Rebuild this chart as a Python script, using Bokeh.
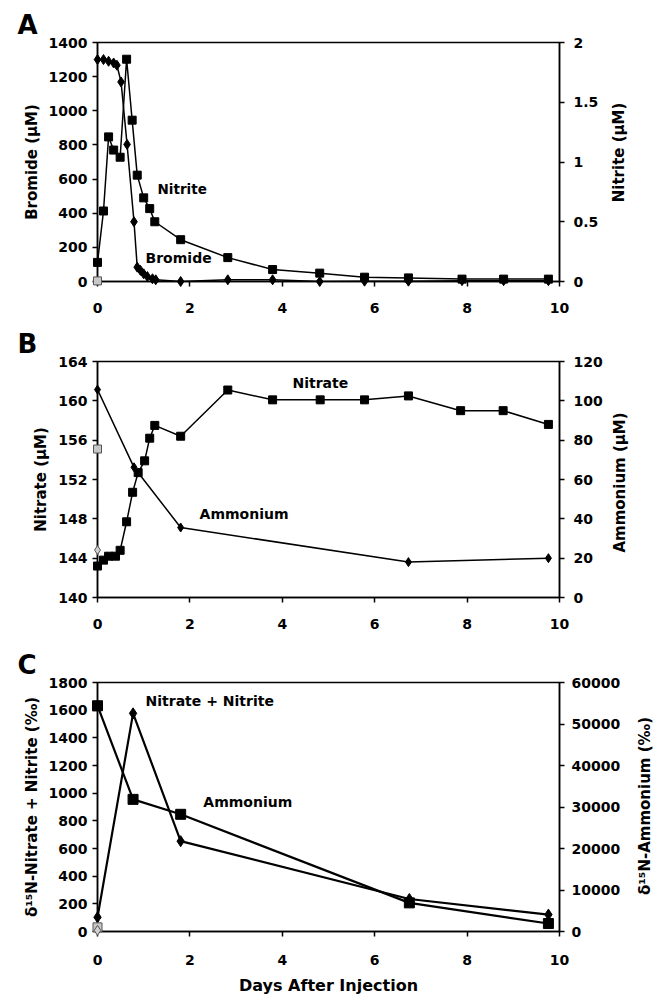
import math
from bokeh.plotting import figure
from bokeh.models import Range1d, LinearAxis, FixedTicker, BasicTickFormatter
from bokeh.layouts import column
from bokeh.embed import file_html
from bokeh.resources import INLINE
from bokeh.core.properties import value

FONT = "DejaVu Sans"

# ---------------- Panel A data ----------------
a_days_bromide = [0, 0.13, 0.24, 0.35, 0.42, 0.51, 0.64, 0.79, 0.86, 0.93, 1.0, 1.08, 1.19, 1.26,
                  1.80, 2.82, 3.79, 4.81, 5.78, 6.73, 7.89, 8.79, 9.76]
a_bromide = [1300, 1300, 1290, 1280, 1267, 1169, 803, 350, 84, 65, 45, 29, 16, 10,
             0, 10, 10, 0, 2, 2, 5, 5, 5]
a_days_nitrite = [0, 0.13, 0.24, 0.35, 0.49, 0.63, 0.75, 0.86, 1.0, 1.13, 1.24, 1.80, 2.82,
                  3.79, 4.81, 5.78, 6.73, 7.89, 8.79, 9.76]
a_nitrite = [0.16, 0.59, 1.21, 1.10, 1.04, 1.86, 1.35, 0.89, 0.70, 0.61, 0.50, 0.35, 0.20,
             0.10, 0.07, 0.036, 0.03, 0.02, 0.02, 0.02]
a_bg_days = [0]
a_bg_nitrite = [0.005]

# ---------------- Panel B data ----------------
b_days_nitrate = [0, 0.13, 0.24, 0.39, 0.49, 0.63, 0.76, 0.88, 1.02, 1.13, 1.24, 1.80, 2.82,
                  3.79, 4.82, 5.78, 6.73, 7.86, 8.78, 9.76]
b_nitrate = [143.2, 143.8, 144.2, 144.2, 144.8, 147.7, 150.7, 152.7, 153.9, 156.2, 157.5, 156.4,
             161.1, 160.1, 160.1, 160.1, 160.5, 159.0, 159.0, 157.6]
b_days_ammonium = [0, 0.79, 1.80, 6.73, 9.76]
b_ammonium = [105.7, 66.2, 35.6, 18.0, 20.0]
b_bg_days = [0]
b_bg_nitrate = [155.1]
b_bg_ammonium = [24.1]

# ---------------- Panel C data ----------------
c_days = [0, 0.77, 1.80, 6.75, 9.76]
c_d15n_nox = [103, 1577, 653, 235, 122]
c_d15n_ammonium = [54400, 31840, 28240, 6900, 1920]
c_bg_days = [0]
c_bg_nox = [8]
c_bg_ammonium = [1000]

x_ticks = [0, 2, 4, 6, 8, 10]


def style_axis(ax, ticks, fmt=None, overrides=None):
    ax.ticker = FixedTicker(ticks=ticks)
    ax.minor_tick_line_color = None
    ax.major_tick_in = 0
    ax.major_tick_out = 5
    ax.major_tick_line_width = 1.5
    ax.axis_line_width = 1.5
    ax.axis_line_color = "black"
    ax.major_tick_line_color = "black"
    ax.major_label_text_font = FONT
    ax.major_label_text_font_style = "bold"
    ax.major_label_text_font_size = "14px"
    ax.major_label_text_color = "black"
    ax.axis_label_text_font = FONT
    ax.axis_label_text_font_style = "bold"
    ax.axis_label_text_font_size = "15px"
    ax.axis_label_text_color = "black"
    if fmt is not None:
        ax.formatter = fmt
    if overrides is not None:
        ax.major_label_overrides = overrides


def make_fig(height, top, bottom, yr, yr2, letter):
    p = figure(width=670, height=height, x_range=Range1d(0, 10), y_range=Range1d(*yr),
               output_backend="svg", toolbar_location=None,
               min_border_left=97, min_border_right=111,
               min_border_top=top, min_border_bottom=bottom)
    p.extra_y_ranges = {"r": Range1d(*yr2)}
    p.xgrid.grid_line_color = None
    p.ygrid.grid_line_color = None
    p.outline_line_color = "black"
    p.outline_line_width = 1.5
    p.background_fill_color = "white"
    p.border_fill_color = "white"
    p.title.text = letter
    p.title.align = "left"
    p.title.offset = -80
    p.title.standoff = 6
    p.title.text_font = FONT
    p.title.text_font_style = "bold"
    p.title.text_font_size = "26px"
    p.title.text_color = "black"
    return p


def add_text(p, x, y, t, rng="default", size="14px", angle=0.0, align="left"):
    r = p.text(x=[x], y=[y], text=[t], text_font=value(FONT), text_font_style="bold",
               text_font_size=size, text_baseline="middle", text_align=align,
               text_color="black", y_range_name=rng, angle=angle)
    r.level = "overlay"
    return r


def pts(p, x, y, marker, size, fill, line, rng="default"):
    r = p.scatter(x, y, marker=marker, size=size, fill_color=fill, line_color=line,
                  y_range_name=rng)
    r.level = "overlay"
    return r


def right_axis(p, ticks, fmt=None, overrides=None, standoff=9):
    ax = LinearAxis(y_range_name="r")
    style_axis(ax, ticks, fmt=fmt, overrides=overrides)
    ax.major_label_standoff = standoff
    p.add_layout(ax, "right")
    return ax


# ---------------- Panel A ----------------
pA = make_fig(320, 42, 39, (0, 1400), (0, 2), "A")
pA.line(a_days_bromide, a_bromide, line_color="black", line_width=1.5)
pts(pA, a_days_bromide, a_bromide, "diamond", 10, "black", "black")
pA.line(a_days_nitrite, a_nitrite, line_color="black", line_width=1.5, y_range_name="r")
pts(pA, a_days_nitrite, a_nitrite, "square", 8, "black", "black", "r")
pts(pA, a_bg_days, a_bg_nitrite, "square", 8, "#c8c8c8", "#555555", "r")
style_axis(pA.xaxis[0], x_ticks)
pA.xaxis[0].major_label_standoff = 16
style_axis(pA.yaxis[0], [0, 200, 400, 600, 800, 1000, 1200, 1400])
pA.yaxis[0].axis_label = "Bromide (µM)"
right_axis(pA, [0, 0.5, 1, 1.5, 2],
           overrides={0: "0", 0.5: "0.5", 1: "1", 1.5: "1.5", 2: "2"})
add_text(pA, 11.28, 756, "Nitrite (µM)", size="15px", angle=math.pi / 2, align="center")
add_text(pA, 1.30, 540, "Nitrite", size="13.5px")
add_text(pA, 1.04, 135, "Bromide")

# ---------------- Panel B ----------------
pB = make_fig(320, 41, 43, (140, 164), (0, 120), "B")
pB.line(b_days_ammonium, b_ammonium, line_color="black", line_width=1.5, y_range_name="r")
pts(pB, b_days_ammonium, b_ammonium, "diamond", 9, "black", "black", "r")
pts(pB, b_bg_days, b_bg_ammonium, "diamond", 9, "#d0d0d0", "#555555", "r")
pB.line(b_days_nitrate, b_nitrate, line_color="black", line_width=1.5)
pts(pB, b_days_nitrate, b_nitrate, "square", 8, "black", "black")
pts(pB, b_bg_days, b_bg_nitrate, "square", 8, "#c8c8c8", "#555555")
style_axis(pB.xaxis[0], x_ticks)
pB.xaxis[0].major_label_standoff = 16
style_axis(pB.yaxis[0], [140, 144, 148, 152, 156, 160, 164])
pB.yaxis[0].axis_label = "Nitrate (µM)"
right_axis(pB, [0, 20, 40, 60, 80, 100, 120])
add_text(pB, 11.32, 151.7, "Ammonium (µM)", size="15px", angle=math.pi / 2, align="center")
add_text(pB, 4.22, 161.8, "Nitrate")
add_text(pB, 2.21, 148.5, "Ammonium")

# ---------------- Panel C ----------------
pC = make_fig(357, 42, 65, (0, 1800), (0, 60000), "C")
pC.line(c_days, c_d15n_nox, line_color="black", line_width=2.2)
pts(pC, c_days, c_d15n_nox, "diamond", 11, "black", "black")
pC.line(c_days, c_d15n_ammonium, line_color="black", line_width=2.2, y_range_name="r")
pts(pC, c_days, c_d15n_ammonium, "square", 10, "black", "black", "r")
pts(pC, c_bg_days, c_bg_ammonium, "square", 9, "#c8c8c8", "#555555", "r")
pts(pC, c_bg_days, c_bg_nox, "diamond", 10, "#d0d0d0", "#555555")
style_axis(pC.xaxis[0], x_ticks)
pC.xaxis[0].major_label_standoff = 18
pC.xaxis[0].axis_label = "Days After Injection"
pC.xaxis[0].axis_label_standoff = 8
pC.xaxis[0].axis_label_text_font_size = "16px"
style_axis(pC.yaxis[0], [0, 200, 400, 600, 800, 1000, 1200, 1400, 1600, 1800])
pC.yaxis[0].axis_label = "δ¹⁵N-Nitrate + Nitrite (‰)"
right_axis(pC, [0, 10000, 20000, 30000, 40000, 50000, 60000],
           fmt=BasicTickFormatter(use_scientific=False), standoff=7)
add_text(pC, 11.86, 907, "δ¹⁵N-Ammonium (‰)", size="15px", angle=math.pi / 2, align="center")
add_text(pC, 1.04, 1663, "Nitrate + Nitrite")
add_text(pC, 2.29, 936, "Ammonium")

layout = column(pA, pB, pC, spacing=0)
open("out.html", "w").write(file_html(layout, INLINE))
